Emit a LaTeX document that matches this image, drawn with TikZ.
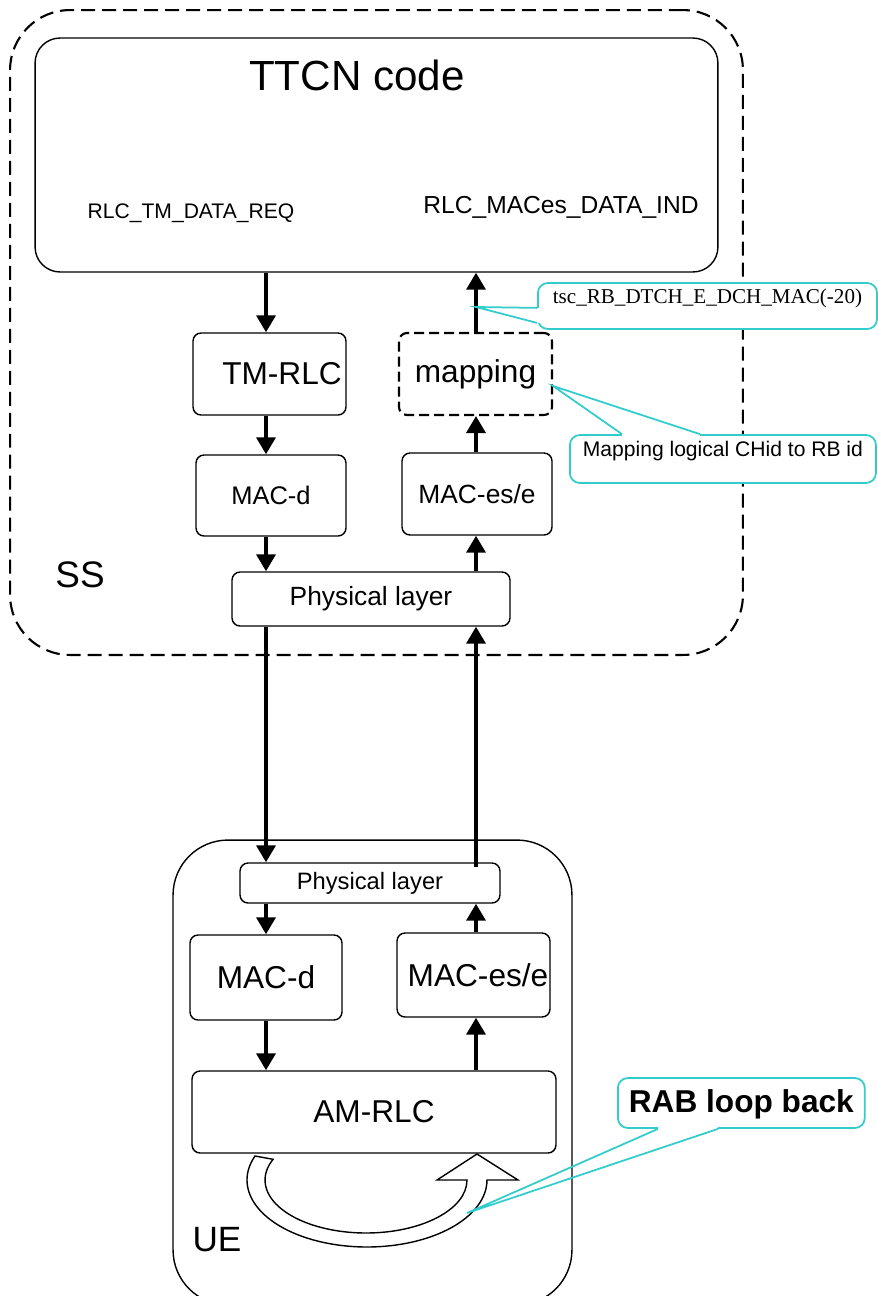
\documentclass[tikz,border=0pt]{standalone}
\usepackage{fontspec}
\setmainfont{Liberation Sans}
\newfontfamily\notefont{Liberation Serif}
\usepackage{xcolor}
\usetikzlibrary{arrows.meta}
\newcommand{\fs}[1]{\fontsize{#1}{#1}\selectfont}
\definecolor{notecyan}{RGB}{51,204,204}

\begin{document}
\begin{tikzpicture}[x=0.02cm,y=-0.02cm,
    >={Triangle[length=0.34cm,width=0.38cm]},
    block/.style={draw,line width=0.8pt,rounded corners=0.16cm,inner sep=0pt},
    flow/.style={line width=2pt},
    note/.style={draw=notecyan,line width=1pt,fill=white,rounded corners=0.2cm,
      inner ysep=0pt,anchor=base west},
    noteline/.style={draw=notecyan,line width=1pt}]
  \useasboundingbox (0,0) rectangle (877,1296);

  % SS side
  \node (ss) [draw,dash pattern=on 0.28cm off 0.14cm,line width=1.2pt,
    rounded corners=1.2cm,minimum width=14.66cm,minimum height=12.9cm]
    at (376.5,332.5) {};
  \node (ttcn) [block,rounded corners=0.5cm,minimum width=13.66cm,
    minimum height=4.68cm] at (376.5,155) {};
  \node (ttcntext) at (357,75) {\fs{24pt}TTCN code};
  \node (tmreq) at (191,213) {\fs{12pt}RLC\_TM\_DATA\_REQ};
  \node (macind) at (561,207) {\fs{14pt}RLC\_MACes\_DATA\_IND};
  \node (tmrlc) [block,minimum width=3.06cm,minimum height=1.64cm]
    at (269.5,374) {\fs{18pt}\hspace{0.5cm}TM-RLC};
  \node (mapping) [block,dash pattern=on 0.2cm off 0.1cm,line width=1.2pt,
    minimum width=3.06cm,minimum height=1.64cm] at (475.5,374) {\fs{18pt}mapping};
  \node (macdss) [block,minimum width=3cm,minimum height=1.62cm]
    at (271,495.5) {\fs{14.5pt}MAC-d};
  \node (macess) [block,minimum width=3cm,minimum height=1.64cm]
    at (477,494) {\fs{15pt}MAC-es/e};
  \node (physs) [block,minimum width=5.56cm,minimum height=1.08cm]
    at (371,599) {\fs{15pt}Physical layer};
  \node (sslabel) at (80,575) {\fs{21pt}SS};

  % UE side
  \node (ue) [block,rounded corners=1.1cm,minimum width=7.98cm,minimum height=9.3cm]
    at (372.5,1072.5) {};
  \node (physu) [block,minimum width=5.2cm,minimum height=0.8cm]
    at (370,883) {\fs{13.5pt}Physical layer};
  \node (macdu) [block,minimum width=3.04cm,minimum height=1.7cm]
    at (266,977.5) {\fs{18pt}MAC-d};
  \node (macesu) [block,minimum width=3.06cm,minimum height=1.68cm]
    at (473.5,975) {\fs{18pt}\hspace{0.18cm}MAC-es/e};
  \node (amrlc) [block,minimum width=7.28cm,minimum height=1.64cm]
    at (374,1112) {\fs{18pt}AM-RLC};
  \node (uelabel) at (217,1240) {\fs{20pt}UE};

  % loop back
  \draw[line width=0.8pt,fill=white] (255,1156)
    arc[start angle=159,end angle=360,x radius=2.4cm,y radius=1.34cm]
    -- (518,1180) -- (477,1154) -- (437,1180) -- (467,1180)
    arc[start angle=0,end angle=-203,x radius=2.02cm,y radius=1.06cm]
    -- cycle;
  \coordinate (looptip) at (467,1213);

  % data path
  \coordinate (lcol) at (266,0);
  \coordinate (rcol) at (476,0);
  \draw[flow,->] (lcol |- ttcn.south) -- (lcol |- tmrlc.north);
  \draw[flow,->] (lcol |- tmrlc.south) -- (lcol |- macdss.north);
  \draw[flow,->] (lcol |- macdss.south) -- (lcol |- physs.north);
  \draw[flow,->] (lcol |- physs.south) -- (lcol |- physu.north);
  \draw[flow,->] (lcol |- physu.south) -- (lcol |- macdu.north);
  \draw[flow,->] (lcol |- macdu.south) -- (lcol |- amrlc.north);
  \draw[flow,->] (rcol |- amrlc.north) -- (rcol |- macesu.south);
  \draw[flow,->] (rcol |- macesu.north) -- (rcol |- physu.south);
  \draw[flow,->] ([yshift=-0.1cm]rcol |- physu.north) -- (rcol |- physs.south);
  \draw[flow,->] (rcol |- physs.north) -- (rcol |- macess.south);
  \draw[flow,->] (rcol |- macess.north) -- (rcol |- mapping.south);
  \draw[flow,->] (rcol |- mapping.north) -- (rcol |- ttcn.south);

  % callouts
  \coordinate (tsctip) at (476,307);
  \node (tscnote) [note,inner xsep=0.3cm,text height=0.4cm,text depth=0.52cm]
    at (537,303) {\notefont\fs{12pt}tsc\_RB\_DTCH\_E\_DCH\_MAC(-20)};
  \path ([yshift=0.44cm]tscnote.south west) coordinate (tsca)
    ([yshift=0.14cm]tscnote.south west) coordinate (tscb);
  \fill[white] ([xshift=-0.7pt]tsca) rectangle ([xshift=1.5pt]tscb);
  \draw[noteline] (tsca) -- (tsctip) -- (tscb);

  \node (chidnote) [note,inner xsep=0.26cm,text height=0.42cm,text depth=0.54cm]
    at (569,456) {\fs{12pt}Mapping logical CHid to RB id};
  \path ([xshift=1.06cm]chidnote.north west) coordinate (chida)
    ([xshift=2.62cm]chidnote.north west) coordinate (chidb)
    ([yshift=-0.24cm]mapping.east) coordinate (chidtip);
  \fill[white] ([yshift=0.7pt]chida) rectangle ([yshift=-1.5pt]chidb);
  \draw[noteline] (chida) -- (chidtip) -- (chidb);

  \node (rabnote) [note,inner xsep=0.22cm,text height=0.68cm,text depth=0.32cm]
    at (617,1112) {\fs{18pt}\bfseries RAB loop back};
  \path ([xshift=0.82cm]rabnote.south west) coordinate (raba)
    ([xshift=2.02cm]rabnote.south west) coordinate (rabb);
  \fill[white] ([yshift=-0.7pt]raba) rectangle ([yshift=1.5pt]rabb);
  \draw[noteline] (raba) -- (looptip) -- (rabb);
\end{tikzpicture}
\end{document}
